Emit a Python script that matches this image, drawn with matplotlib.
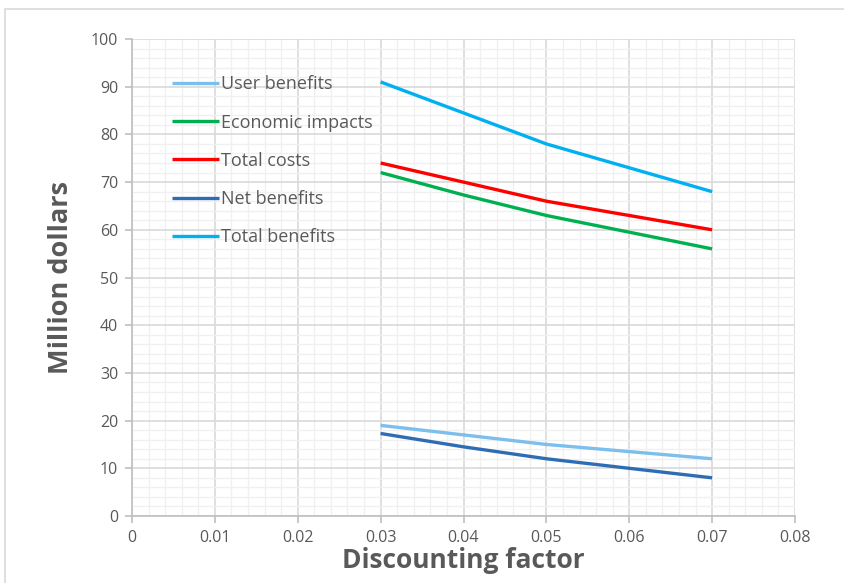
import matplotlib
matplotlib.use("Agg")
import matplotlib.pyplot as plt
from matplotlib.ticker import MultipleLocator
from matplotlib.patches import Rectangle

plt.rcParams['font.family'] = ['Open Sans', 'DejaVu Sans']

# discount rates and the series (million dollars)
rates = [0.03, 0.04, 0.05, 0.06, 0.07]
user_benefits = [19.0, 17.0, 15.0, 13.5, 12.0]
economic_impacts = [72.0, 67.3, 63.0, 59.5, 56.0]
total_costs = [74.0, 70.0, 66.0, 63.0, 60.0]
net_benefits = [17.3, 14.5, 12.0, 10.0, 8.0]
total_benefits = [91.0, 84.5, 78.0, 73.0, 68.0]

series = [
    ("User benefits", user_benefits, "#7DBFEC"),
    ("Economic impacts", economic_impacts, "#00B050"),
    ("Total costs", total_costs, "#FF0000"),
    ("Net benefits", net_benefits, "#2E6DB4"),
    ("Total benefits", total_benefits, "#00B0F0"),
]

fig = plt.figure(figsize=(8.44, 5.83), dpi=100)
ax = fig.add_axes([132/844, 1 - 516/583, (795-132)/844, (516-39)/583])

# chart area border
fig.patches.append(Rectangle((5/844, -0.05), 1.1, 1 - 9/583 + 0.05,
                             transform=fig.transFigure, fill=False,
                             edgecolor="#D9D9D9", linewidth=1.2))

for name, vals, col in series:
    ax.plot(rates, vals, color=col, linewidth=2.4, label=name,
            solid_capstyle="butt")

ax.set_xlim(0, 0.08)
ax.set_ylim(0, 100)
ax.xaxis.set_major_locator(MultipleLocator(0.01))
ax.xaxis.set_minor_locator(MultipleLocator(0.002))
ax.yaxis.set_major_locator(MultipleLocator(10))
ax.yaxis.set_minor_locator(MultipleLocator(2))
ax.set_xticklabels([f"{v:g}" for v in ax.get_xticks()])

ax.grid(which="major", color="#D9D9D9", linewidth=1.2)
ax.grid(which="minor", color="#F0F0F0", linewidth=1.0)
ax.set_axisbelow(True)
for side in ("top", "right"):
    ax.spines[side].set_visible(False)
for side in ("left", "bottom"):
    ax.spines[side].set_color("#BFBFBF")
    ax.spines[side].set_linewidth(1.2)

ax.tick_params(axis="both", which="major", length=5, color="#BFBFBF",
               width=1.2, labelsize=11.5, labelcolor="#595959", pad=5)
ax.tick_params(axis="both", which="minor", length=0)

ax.set_xlabel("Discounting factor", fontsize=19, fontweight="bold",
              color="#595959", labelpad=1)
ax.set_ylabel("Million dollars", fontsize=19.5, fontweight="bold",
              color="#595959", labelpad=12)

leg = ax.legend(loc="upper left", bbox_to_anchor=(0.036, 0.958), frameon=False,
                fontsize=13, labelcolor="#595959", handlelength=2.6,
                handletextpad=0.12, labelspacing=1.12)

fig.savefig("out.png", dpi=100)
